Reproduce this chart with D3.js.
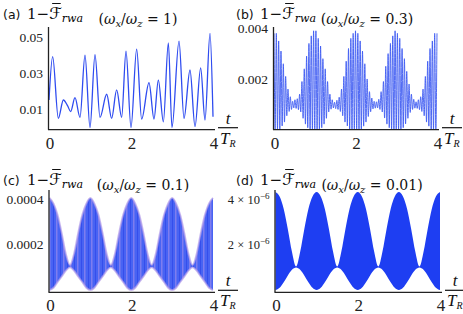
<!DOCTYPE html>
<html>
<head>
<meta charset="utf-8">
<script src="https://cdn.jsdelivr.net/npm/d3@7"></script>
<style>
body { margin: 0; background: #fff; }
svg { display: block; }
.ytick { font-family: "Liberation Serif", serif; font-size: 13.5px; fill: #222; }
.xtick { font-family: "Liberation Serif", serif; font-size: 17px; fill: #222; }
.ttl { font-family: "DejaVu Serif", serif; font-size: 14px; fill: #111; }
.tag { font-family: "DejaVu Sans", sans-serif; font-size: 12.5px; fill: #111; }
.frac { font-family: "Liberation Serif", serif; font-style: italic; font-size: 17px; fill: #111; }
</style>
</head>
<body>
<svg id="chart" width="463" height="314"></svg>
<script>
// ---- data ----
// (a) omega_x/omega_z = 1 : extrema of the curve
var aT = [0,0.089,0.228,0.35,0.455,0.528,0.634,0.756,0.878,1.0,
          1.122,1.244,1.407,1.528,1.65,1.772,1.878,2.0,
          2.138,2.26,2.439,2.561,2.667,2.789,2.911,3.0,
          3.171,3.293,3.439,3.561,3.699,3.805,3.927,4.0];
var aV = [0.0153,0.0394,0.0051,0.0153,0.0120,0.0089,0.0166,0.0057,0.0403,0,
          0.0405,0.0057,0.0185,0.0051,0.0209,0.0057,0.0425,0,
          0.0436,0.0047,0.0249,0.0047,0.0264,0.0032,0.0471,0,
          0.0481,0.0051,0.0320,0.0005,0.0332,0.0042,0.0524,0.006];

// (b) omega_x/omega_z = 0.3 : spike tops and bottoms, evenly spaced over 0..4
var bPeaks = [0.0038,0.0038,0.0035,0.0031,0.0026,0.0021,0.0016,0.0013,0.00112,0.00118,0.00122,0.0014,0.0019,0.0024,0.0029,0.0034,0.0037,0.0039,
              0.0039,0.0036,0.0033,0.0028,0.0024,0.0019,0.0014,0.00118,0.00108,0.00116,0.00128,0.0016,0.0021,0.0027,0.0032,0.0036,0.0038,
              0.0039,0.0038,0.0035,0.0031,0.0026,0.0020,0.0015,0.00125,0.00112,0.0011,0.0012,0.0015,0.0019,0.0025,0.0030,0.0034,0.0037,0.0039,
              0.0038,0.0036,0.0032,0.0028,0.0023,0.0018,0.0014,0.0012,0.0011,0.00118,0.0013,0.0016,0.0021,0.0027,0.0032,0.0035,0.0038,0.0038];
var bTroughs = [0,0,0.00003,0.00015,0.0003,0.00055,0.00072,0.0008,0.00086,0.00084,0.00079,0.0007,0.00045,0.00022,0.00008,0,0,0,
                0,0.00001,0.00008,0.00022,0.00045,0.0007,0.00081,0.00086,0.00083,0.0008,0.00072,0.00055,0.0003,0.00015,0.00003,0,0,
                0,0,0.00003,0.00014,0.0003,0.00052,0.00071,0.00082,0.00085,0.00086,0.0008,0.0007,0.00046,0.00022,0.00008,0.00001,0,0,
                0,0.00001,0.00008,0.00023,0.00045,0.00068,0.0008,0.00085,0.00084,0.00079,0.00072,0.00055,0.0003,0.00014,0.00003,0,0];

// (c),(d): upper and lower envelope of the dense oscillation at t = 0, 0.1, ... 4
var envT = [0,0.1,0.2,0.3,0.4,0.5,0.6,0.7,0.8,0.9,1,1.1,1.2,1.3,1.4,1.5,1.6,1.7,1.8,1.9,2,
            2.1,2.2,2.3,2.4,2.5,2.6,2.7,2.8,2.9,3,3.1,3.2,3.3,3.4,3.5,3.6,3.7,3.8,3.9,4];
var cUpper = [0.000405,0.00038,0.00033,0.00025,0.00016,0.00011,0.00016,0.00025,0.00033,0.00038,
              0.000405,0.00038,0.00033,0.00025,0.00016,0.00011,0.00016,0.00025,0.00033,0.00038,
              0.000405,0.00038,0.00033,0.00025,0.00016,0.00011,0.00016,0.00025,0.00033,0.00038,
              0.000405,0.00038,0.00033,0.00025,0.00016,0.00011,0.00016,0.00025,0.00033,0.00038,0.000405];
var cLower = [0,0.00001,0.000035,0.00006,0.000085,0.0001,0.000085,0.00006,0.000035,0.00001,
              0,0.00001,0.000035,0.00006,0.000085,0.0001,0.000085,0.00006,0.000035,0.00001,
              0,0.00001,0.000035,0.00006,0.000085,0.0001,0.000085,0.00006,0.000035,0.00001,
              0,0.00001,0.000035,0.00006,0.000085,0.0001,0.000085,0.00006,0.000035,0.00001,0];
var dUpper = [4.35e-6,4.15e-6,3.6e-6,2.7e-6,1.7e-6,1.05e-6,1.7e-6,2.7e-6,3.6e-6,4.15e-6,
              4.35e-6,4.15e-6,3.6e-6,2.7e-6,1.7e-6,1.05e-6,1.7e-6,2.7e-6,3.6e-6,4.15e-6,
              4.35e-6,4.15e-6,3.6e-6,2.7e-6,1.7e-6,1.05e-6,1.7e-6,2.7e-6,3.6e-6,4.15e-6,
              4.35e-6,4.15e-6,3.6e-6,2.7e-6,1.7e-6,1.05e-6,1.7e-6,2.7e-6,3.6e-6,4.15e-6,4.35e-6];
var dLower = [0,0.1e-6,0.35e-6,0.65e-6,0.9e-6,1.0e-6,0.9e-6,0.65e-6,0.35e-6,0.1e-6,
              0,0.1e-6,0.35e-6,0.65e-6,0.9e-6,1.0e-6,0.9e-6,0.65e-6,0.35e-6,0.1e-6,
              0,0.1e-6,0.35e-6,0.65e-6,0.9e-6,1.0e-6,0.9e-6,0.65e-6,0.35e-6,0.1e-6,
              0,0.1e-6,0.35e-6,0.65e-6,0.9e-6,1.0e-6,0.9e-6,0.65e-6,0.35e-6,0.1e-6,0];

var xTicks = [0, 2, 4];
var aTicks = [0.01, 0.03, 0.05];
var bTicks = [0.002, 0.004];
var cTicks = [0.0002, 0.0004];
var dTicks = [2e-6, 4e-6];
var ratios = ["1", "0.3", "0.1", "0.01"];
var letters = ["a", "b", "c", "d"];

// ---- layout ----
var svg = d3.select("#chart");
var blue = "#2f4cf0";

var panels = [
	{ x0: 49, x1: 213, axY: 129.7, top: 27, dom: [-0.0012, 0.0559], ticks: aTicks, fmt: d3.format(".2f"), tx: 3, ty: 18.5, mid: 138 },
	{ x0: 274, x1: 437, axY: 129.7, top: 27, dom: [0, 0.00405], ticks: bTicks, fmt: d3.format(".3f"), tx: 236, ty: 18.5, mid: 367 },
	{ x0: 49.5, x1: 213, axY: 292.3, top: 190, dom: [-0.00001, 0.00044], ticks: cTicks, fmt: d3.format(".4f"), tx: 3, ty: 184.5, mid: 143 },
	{ x0: 275.5, x1: 440, axY: 292.3, top: 190, dom: [-0.1e-6, 4.44e-6], ticks: dTicks, fmt: null, tx: 236, ty: 184.5, mid: 372 }
];

panels.forEach(function (p) {
	p.x = d3.scaleLinear().domain([0, 4]).range([p.x0, p.x1]);
	p.y = d3.scaleLinear().domain(p.dom).range([p.axY, p.top]);
	p.g = svg.append("g");
});

function checkDefs(s) {
	var defs = s.select("defs");
	if (defs.empty()) defs = s.append("defs");
	return defs;
}

// streaky fill for panel (c)
var defs = checkDefs(svg);
var pt = defs.append("pattern").attr("id", "streak")
	.attr("patternUnits", "userSpaceOnUse").attr("width", 7).attr("height", 200);
pt.append("rect").attr("width", 7).attr("height", 200).attr("fill", "#4863f3");
pt.append("rect").attr("x", 0).attr("width", 1.5).attr("height", 200).attr("fill", "#a28eec").attr("opacity", 0.6);
pt.append("rect").attr("x", 4).attr("width", 1).attr("height", 200).attr("fill", "#2e45ea").attr("opacity", 0.7);

// ---- marks ----
// (a)
var pa = panels[0];
pa.g.append("path")
	.datum(d3.zip(aT, aV))
	.attr("fill", "none").attr("stroke", blue).attr("stroke-width", 1.3)
	.attr("d", d3.line().x(function (d) { return pa.x(d[0]); }).y(function (d) { return pa.y(d[1]); }).curve(d3.curveMonotoneX));

// (b)
var pb = panels[1];
var bPts = [];
var step = 4 / (bPeaks.length - 1);
bPeaks.forEach(function (v, i) {
	bPts.push([i * step, v]);
	if (i < bTroughs.length) bPts.push([(i + 0.5) * step, bTroughs[i]]);
});
pb.g.append("path")
	.datum(bPts)
	.attr("fill", "none").attr("stroke", "#3d5af2").attr("stroke-width", 0.9)
	.attr("d", d3.line().x(function (d) { return pb.x(d[0]); }).y(function (d) { return pb.y(d[1]); }).curve(d3.curveMonotoneX));

// (c) and (d) envelopes
function band(p, up, lo, fill, edge) {
	var rows = envT.map(function (t, i) { return [t, lo[i], up[i]]; });
	var ar = d3.area()
		.x(function (d) { return p.x(d[0]); })
		.y0(function (d) { return p.y(d[1]); })
		.y1(function (d) { return p.y(d[2]); })
		.curve(d3.curveMonotoneX);
	p.g.append("path").datum(rows).attr("fill", fill).attr("d", ar);
	if (edge) {
		p.g.append("path").datum(rows).attr("fill", "none").attr("stroke", edge).attr("stroke-width", 1.8).attr("opacity", 0.7)
			.attr("d", d3.line().x(function (d) { return p.x(d[0]); }).y(function (d) { return p.y(d[2]); }).curve(d3.curveMonotoneX));
		p.g.append("path").datum(rows).attr("fill", "none").attr("stroke", edge).attr("stroke-width", 1.8).attr("opacity", 0.7)
			.attr("d", d3.line().x(function (d) { return p.x(d[0]); }).y(function (d) { return p.y(d[1]); }).curve(d3.curveMonotoneX));
	}
}
band(panels[2], cUpper, cLower, "url(#streak)", "#b49ce9");
band(panels[3], dUpper, dLower, "#1e3ef2", null);

// ---- axes and text ----
panels.forEach(function (p, k) {
	var g = p.g;
	g.append("line").attr("x1", p.x0 - 1).attr("x2", p.x1 + 2).attr("y1", p.axY).attr("y2", p.axY)
		.attr("stroke", "#222").attr("stroke-width", 1.3);
	g.append("line").attr("x1", p.x0 - 0.5).attr("x2", p.x0 - 0.5).attr("y1", p.top).attr("y2", p.axY)
		.attr("stroke", "#222").attr("stroke-width", 1.3);

	g.selectAll(".xtick").data(xTicks).enter().append("text")
		.attr("class", "xtick").attr("text-anchor", "middle")
		.attr("x", function (d) { return p.x(d) + 1; })
		.attr("y", p.axY + 19)
		.text(function (d) { return d; });

	var yt = g.selectAll(".ytick").data(p.ticks).enter().append("text")
		.attr("class", "ytick").attr("text-anchor", "end")
		.attr("x", p.x0 - 6)
		.attr("y", function (d) { return p.y(d); })
		.attr("dy", "0.35em");
	if (p.fmt) {
		yt.text(p.fmt);
	} else {
		yt.style("font-size", "12.5px")
			.text(function (d) { return Math.round(d * 1e6) + " \u00d7 10"; })
			.append("tspan").attr("dy", -5).style("font-size", "9px").text("\u22126");
	}

	// t / T_R
	var fx = p.x1 + 5;
	g.append("line").attr("x1", fx).attr("x2", fx + 20).attr("y1", p.axY - 2).attr("y2", p.axY - 2)
		.attr("stroke", "#111").attr("stroke-width", 1.2);
	g.append("text").attr("class", "frac").attr("x", fx + 10).attr("y", p.axY - 6)
		.attr("text-anchor", "middle").text("t");
	var tr = g.append("text").attr("class", "frac").attr("x", fx + 2).attr("y", p.axY + 14).text("T");
	tr.append("tspan").attr("dy", 3).style("font-size", "10px").text("R");

	// panel tag and y-label 1 - F_rwa
	g.append("text").attr("class", "tag").attr("x", p.tx).attr("y", p.ty).text("(" + letters[k] + ")");
	var lx = p.tx + 24;
	var one = g.append("text").attr("class", "ttl").attr("x", lx).attr("y", p.ty).style("font-size", "15px").text("1\u2212");
	var w1 = one.node().getComputedTextLength();
	var f = g.append("text").attr("x", lx + w1).attr("y", p.ty)
		.style("font-family", "'DejaVu Sans', sans-serif").style("font-size", "16px")
		.text("\u2131");
	var w2 = f.node().getComputedTextLength();
	g.append("line").attr("x1", lx + w1 + 3).attr("x2", lx + w1 + w2 - 1).attr("y1", p.ty - 15).attr("y2", p.ty - 15)
		.attr("stroke", "#111").attr("stroke-width", 1);
	g.append("text").attr("x", lx + w1 + w2).attr("y", p.ty + 3)
		.style("font-family", "'DejaVu Serif', serif").style("font-style", "italic").style("font-size", "11px")
		.text("rwa");

	// (omega_x / omega_z = r)
	var tt = g.append("text").attr("class", "ttl").attr("x", p.mid).attr("y", p.ty + 5).attr("text-anchor", "middle");
	tt.append("tspan").text("(");
	tt.append("tspan").style("font-style", "italic").text("\u03c9");
	tt.append("tspan").style("font-style", "italic").style("font-size", "10px").attr("dy", 3).text("x");
	tt.append("tspan").attr("dy", -3).text("/");
	tt.append("tspan").style("font-style", "italic").text("\u03c9");
	tt.append("tspan").style("font-style", "italic").style("font-size", "10px").attr("dy", 3).text("z");
	tt.append("tspan").attr("dy", -3).text(" = " + ratios[k] + ")");
});
</script>
</body>
</html>
